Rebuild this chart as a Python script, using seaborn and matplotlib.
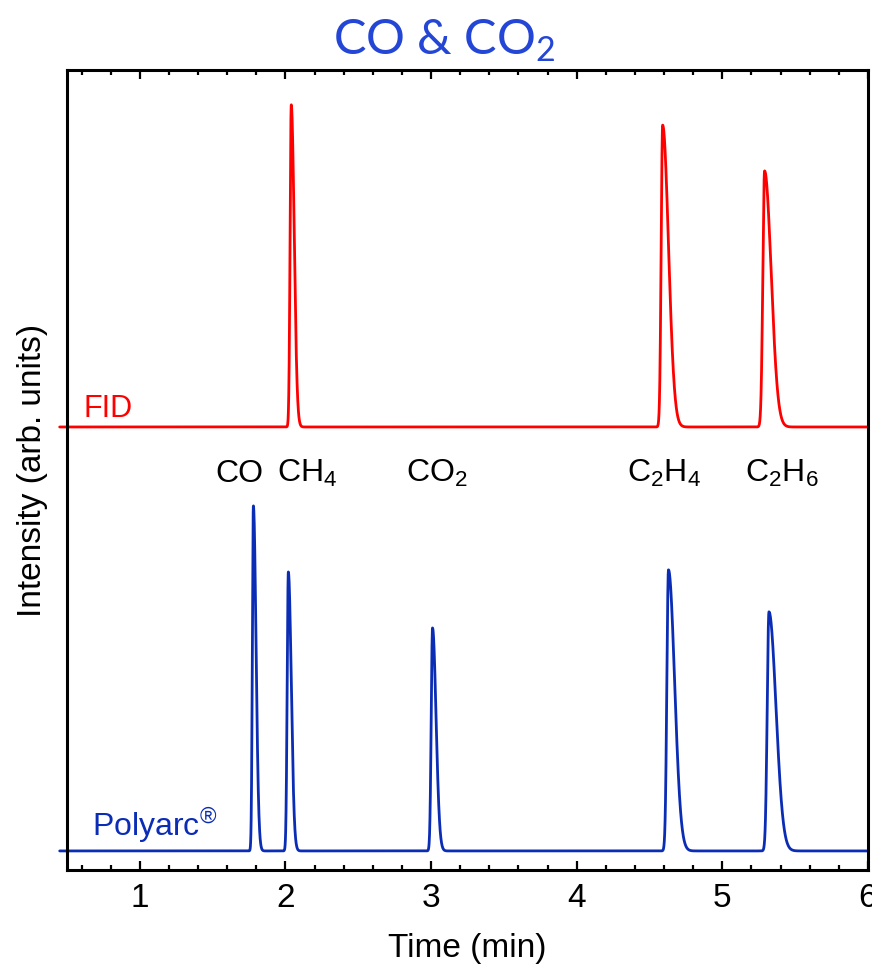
import numpy as np
import pandas as pd
import seaborn as sns
import matplotlib.pyplot as plt
from matplotlib.ticker import MultipleLocator

# peak table (time in min, height in arb. units, widths in min)
fid_time = [2.04, 4.59, 5.29]
fid_height = [0.76, 0.712, 0.604]
fid_wl = [0.008, 0.010, 0.012]
fid_wr = [0.020, 0.040, 0.045]

pa_time = [1.78, 2.02, 3.01, 4.63, 5.32]
pa_height = [0.814, 0.658, 0.526, 0.663, 0.564]
pa_wl = [0.007, 0.008, 0.009, 0.011, 0.012]
pa_wr = [0.018, 0.020, 0.024, 0.042, 0.048]

fid_offset = 1.0
pa_offset = 0.0

labels = ["CO", "CH$_4$", "CO$_2$", "C$_2$H$_4$", "C$_2$H$_6$"]
label_x = [1.685, 2.15, 3.04, 4.60, 5.41]
label_y = 0.870

red = "#ff0000"
blue = "#0b2db5"
title_blue = "#2346d6"


def trace(t, centers, heights, wl, wr, offset):
    # asymmetric (tailing) peaks on a flat baseline
    y = np.zeros_like(t)
    for c, h, sl, sr in zip(centers, heights, wl, wr):
        s = np.where(t < c, sl, sr)
        y += h * np.exp(-0.5 * ((t - c) / s) ** 2)
    return y + offset


t = np.linspace(0.45, 6.0, 6000)
df = pd.concat([
    pd.DataFrame({"time": t, "signal": trace(t, fid_time, fid_height, fid_wl, fid_wr, fid_offset), "det": "FID"}),
    pd.DataFrame({"time": t, "signal": trace(t, pa_time, pa_height, pa_wl, pa_wr, pa_offset), "det": "Polyarc"}),
])

sns.set_theme(style="ticks")
plt.rcParams['font.family'] = ['Liberation Sans', 'DejaVu Sans']
plt.rcParams['mathtext.default'] = 'regular'
plt.rcParams['text.color'] = 'black'
plt.rcParams['axes.labelcolor'] = 'black'

fig = plt.figure(figsize=(8.72, 9.67), dpi=100)
ax = fig.add_axes([0.0768, 0.1003, 0.9186, 0.8273])

sns.lineplot(data=df, x="time", y="signal", hue="det", palette={"FID": red, "Polyarc": blue},
             estimator=None, sort=False, linewidth=2.0, legend=False, ax=ax, clip_on=False)

ax.set_xlim(0.5, 6.0)
ax.set_ylim(-0.045, 1.842)
ax.xaxis.set_major_locator(MultipleLocator(1))
ax.xaxis.set_minor_locator(MultipleLocator(0.2))
ax.tick_params(axis="x", which="both", direction="in", top=True, bottom=True, width=1.6,
               colors="black", labelcolor="black")
ax.tick_params(axis="x", which="major", length=6.5, labelsize=24, pad=9)
ax.tick_params(axis="x", which="minor", length=3.5)
ax.set_yticks([])
for sp in ax.spines.values():
    sp.set_visible(True)
    sp.set_linewidth(2.2)
    sp.set_color("black")

ax.set_xlabel("Time (min)", fontsize=24, labelpad=14, color="black")
ax.set_ylabel("Intensity (arb. units)", fontsize=24, labelpad=14, color="black")

for name, x in zip(labels, label_x):
    ax.text(x, label_y, name, fontsize=23, ha="center", va="baseline", color="black")

ax.text(0.614, 1.024, "FID", fontsize=22, color=red, ha="left", va="baseline")
ax.text(0.669, 0.035, "Polyarc$^{®}$", fontsize=23, color=blue, ha="left", va="baseline")

fig.text(0.509, 0.958, "CO & CO$_2$", fontsize=35, color=title_blue, ha="center", va="center",
         family=["Lato", "DejaVu Sans"])

fig.savefig("out.png", dpi=100)
